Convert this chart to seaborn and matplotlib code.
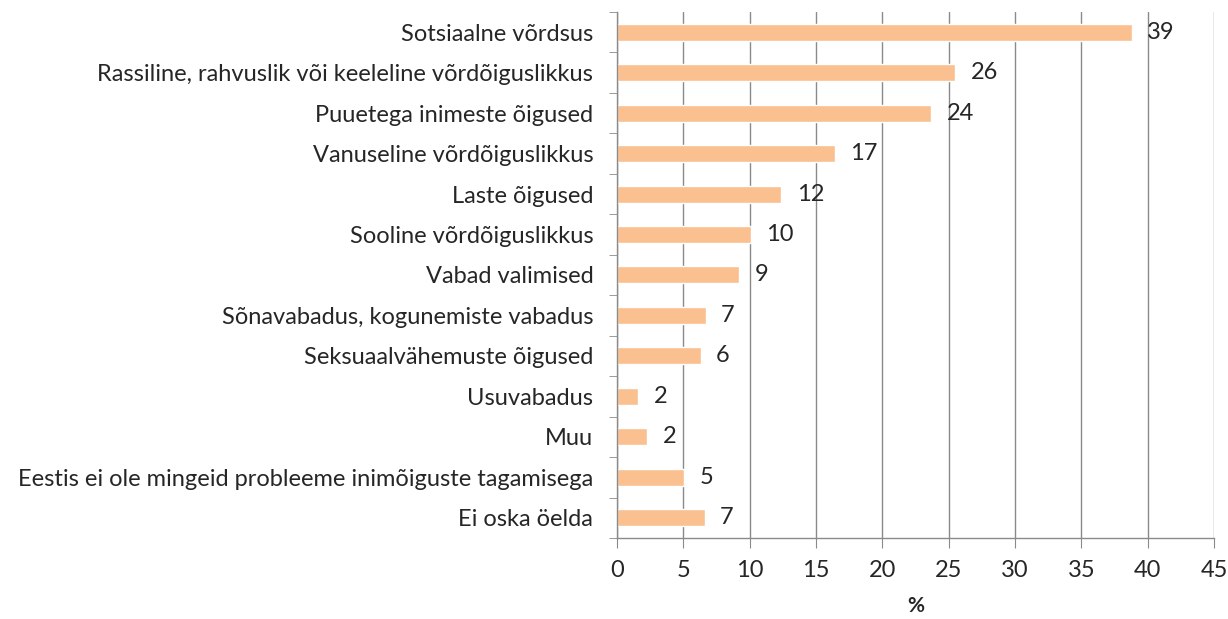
import numpy as np
import pandas as pd
import seaborn as sns
import matplotlib.pyplot as plt
from matplotlib.ticker import FixedLocator

# Data
categories = [
    "Sotsiaalne võrdsus",
    "Rassiline, rahvuslik või keeleline võrdõiguslikkus",
    "Puuetega inimeste õigused",
    "Vanuseline võrdõiguslikkus",
    "Laste õigused",
    "Sooline võrdõiguslikkus",
    "Vabad valimised",
    "Sõnavabadus, kogunemiste vabadus",
    "Seksuaalvähemuste õigused",
    "Usuvabadus",
    "Muu",
    "Eestis ei ole mingeid probleeme inimõiguste tagamisega",
    "Ei oska öelda",
]
values = [38.8, 25.5, 23.7, 16.4, 12.4, 10.1, 9.2, 6.7, 6.3, 1.6, 2.3, 5.05, 6.6]
value_labels = ["39", "26", "24", "17", "12", "10", "9", "7", "6", "2", "2", "5", "7"]
x_ticks = [0, 5, 10, 15, 20, 25, 30, 35, 40, 45]

sns.set_style("white")
plt.rcParams["font.family"] = ["Lato", "DejaVu Sans"]

df = pd.DataFrame({"cat": categories, "val": values})

fig = plt.figure(figsize=(12.28, 6.19), dpi=100)
ax = fig.add_axes([0.5024, 0.1309, 0.4862, 0.8497])

sns.barplot(data=df, y="cat", x="val", orient="h", color="#FAC090",
            saturation=1, width=0.42, ax=ax)

# value labels
ax.bar_label(ax.containers[0], labels=value_labels, padding=11, fontsize=17)

ax.set_xlim(0, 45)
ax.set_ylim(len(categories) - 0.5, -0.5)
ax.xaxis.set_major_locator(FixedLocator(x_ticks))
ax.grid(axis="x", color="#8a8a8a", linewidth=1)
ax.set_axisbelow(True)

for side in ["top", "right"]:
    ax.spines[side].set_visible(False)
for side in ["left", "bottom"]:
    ax.spines[side].set_color("#8a8a8a")
    ax.spines[side].set_linewidth(1)

# excel-style category ticks between bars
ax.yaxis.set_minor_locator(FixedLocator(np.arange(-0.5, len(categories), 1)))
ax.tick_params(axis="y", which="major", length=0, labelsize=17, pad=17)
ax.tick_params(axis="y", which="minor", length=6, color="#8a8a8a", direction="out", left=True)
ax.tick_params(axis="x", which="major", length=7, color="#8a8a8a", direction="out",
               labelsize=17, pad=9, bottom=True)

ax.set_ylabel("")
ax.set_xlabel("%", fontsize=15, fontweight="bold", labelpad=11)

fig.savefig("out.png", dpi=100)
